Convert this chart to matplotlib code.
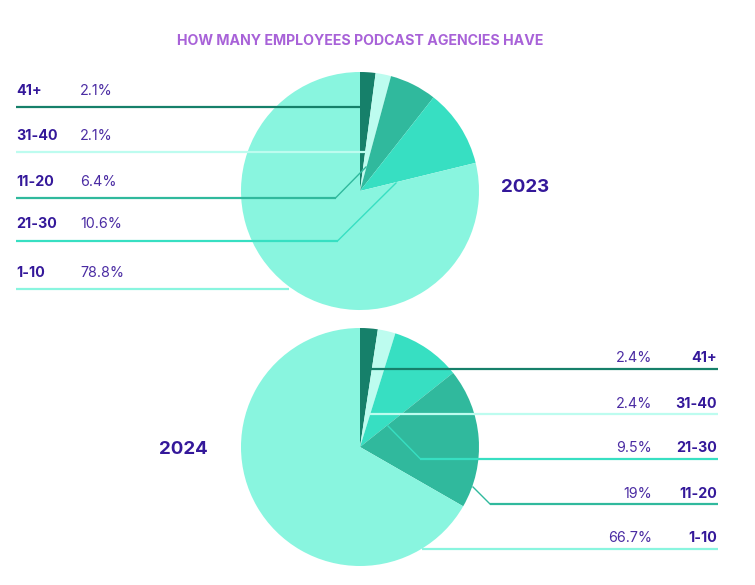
import matplotlib
matplotlib.use("Agg")
import matplotlib.pyplot as plt

plt.rcParams['font.family'] = ['Inter', 'DejaVu Sans']

# data
title = "HOW MANY EMPLOYEES PODCAST AGENCIES HAVE"

labels_2023 = ["41+", "31-40", "11-20", "21-30", "1-10"]
values_2023 = [2.1, 2.1, 6.4, 10.6, 78.8]
texts_2023 = ["2.1%", "2.1%", "6.4%", "10.6%", "78.8%"]

labels_2024 = ["41+", "31-40", "21-30", "11-20", "1-10"]
values_2024 = [2.4, 2.4, 9.5, 19, 66.7]
texts_2024 = ["2.4%", "2.4%", "9.5%", "19%", "66.7%"]

# colours per group
palette = {
    "41+": "#16806a",
    "31-40": "#bdfcef",
    "11-20": "#30b99d",
    "21-30": "#37dfc2",
    "1-10": "#89f5df",
}
dark = "#34189a"
value_col = "#4b2ca3"

fig = plt.figure(figsize=(7.55, 5.85), dpi=100)
ax = fig.add_axes([0, 0, 1, 1])

cx, r = 360, 119
cy_top, cy_bot = 191, 447

ax.pie(values_2023, colors=[palette[l] for l in labels_2023],
       center=(cx, cy_top), radius=r, startangle=-90, counterclock=True,
       wedgeprops=dict(linewidth=0))
ax.pie(values_2024, colors=[palette[l] for l in labels_2024],
       center=(cx, cy_bot), radius=r, startangle=-90, counterclock=True,
       wedgeprops=dict(linewidth=0))

ax.set_xlim(0, 755)
ax.set_ylim(585, 0)
ax.set_aspect('equal')
ax.axis('off')

# top block: labels on the left, leader lines run into the pie
rows_top = [107, 152, 197.5, 240.5, 289]
ends_top = [[(360, None)], [(366, None)], [(336, None), (366, 167)],
            [(338, None), (396, 183)], [(289, None)]]
for lab, txt, ry, ends in zip(labels_2023, texts_2023, rows_top, ends_top):
    ax.text(16, ry - 16, lab, fontsize=10.3, fontweight='bold', color=dark,
            va='center', ha='left')
    ax.text(80, ry - 16, txt, fontsize=10.3, color=value_col, va='center', ha='left')
    x_end = ends[0][0]
    ax.plot([16, x_end], [ry, ry], color=palette[lab], lw=1.6,
            solid_capstyle='butt', zorder=5)
    if len(ends) > 1:
        ax.plot([x_end, ends[1][0]], [ry, ends[1][1]], color=palette[lab],
                lw=1.0, zorder=5)

# bottom block: labels on the right
rows_bot = [369, 414, 458.5, 504, 549]
ends_bot = [[(370, None)], [(370, None)], [(420, None), (388, 426)],
            [(490, None), (473, 487)], [(422, None)]]
for lab, txt, ry, ends in zip(labels_2024, texts_2024, rows_bot, ends_bot):
    ax.text(717, ry - 10.5, lab, fontsize=10.3, fontweight='bold', color=dark,
            va='center', ha='right')
    ax.text(652, ry - 10.5, txt, fontsize=10.3, color=value_col, va='center', ha='right')
    x_end = ends[0][0]
    ax.plot([x_end, 718], [ry, ry], color=palette[lab], lw=1.6,
            solid_capstyle='butt', zorder=5)
    if len(ends) > 1:
        ax.plot([x_end, ends[1][0]], [ry, ends[1][1]], color=palette[lab],
                lw=1.0, zorder=5)

ax.text(525, 188, "2023", fontsize=13.5, fontweight='bold', color=dark,
        ha='center', va='center')
ax.text(183, 450, "2024", fontsize=13.5, fontweight='bold', color=dark,
        ha='center', va='center')
ax.text(360, 41, title, fontsize=10.2, fontweight='bold', color="#a862d8",
        ha='center', va='center')

fig.savefig("out.png", dpi=100)
